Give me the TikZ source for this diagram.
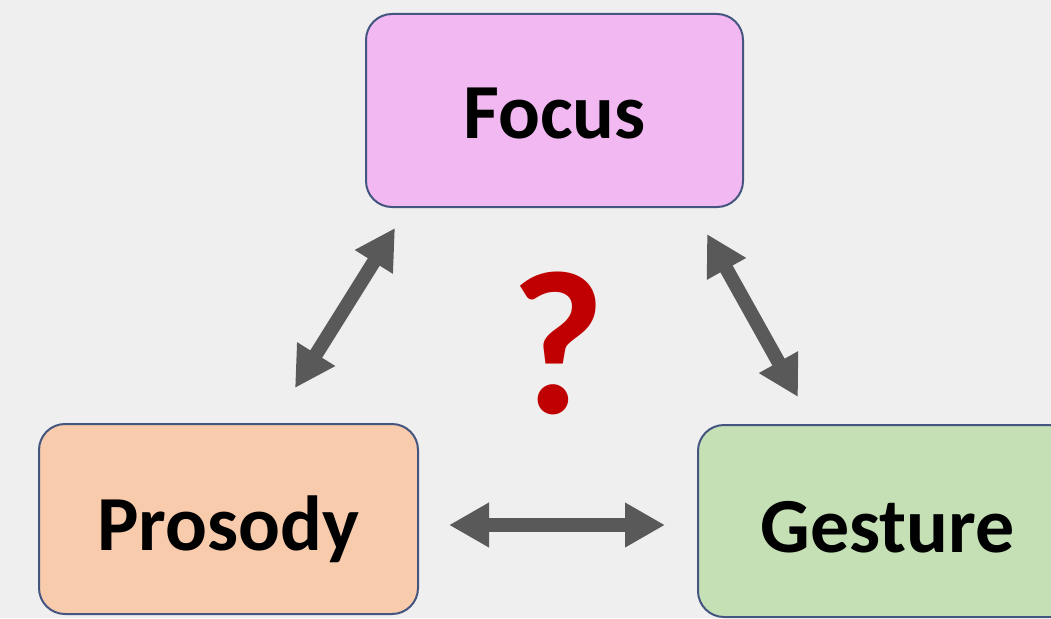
\documentclass[tikz,border=0pt]{standalone}
\usepackage{fontspec}
\setmainfont{Carlito}
\usetikzlibrary{arrows.meta}
\definecolor{bg}{HTML}{EFEFEF}
\definecolor{edge}{HTML}{44557F}
\definecolor{focusfill}{HTML}{F2B8F2}
\definecolor{prosfill}{HTML}{F8CBAD}
\definecolor{gestfill}{HTML}{C5E0B4}
\definecolor{arrowgray}{HTML}{595959}
\definecolor{qred}{HTML}{C00000}
\tikzset{
  box/.style={draw=edge, line width=2pt, rounded corners=26pt, inner sep=0pt, align=center, font=\bfseries\fontsize{78}{82}\selectfont, text depth=0pt},
  link/.style={draw=arrowgray, line width=14pt, {Triangle[length=40pt,width=42pt]}-{Triangle[length=40pt,width=42pt]}}
}
\begin{document}
\begin{tikzpicture}[x=1pt,y=-1pt]
\useasboundingbox (0,0) rectangle (1051,618);
\clip (0,0) rectangle (1051,618);
\fill[bg] (0,0) rectangle (1051,618);
\node[box, fill=focusfill, minimum width=377pt, minimum height=193pt, text height=55pt] (focus) at (554.5,110.5) {Focus};
\node[box, fill=prosfill, minimum width=379pt, minimum height=190pt, text height=62pt] (prosody) at (228.5,519) {Prosody};
\node[box, fill=gestfill, minimum width=379pt, minimum height=192pt, text height=62pt] (gesture) at (887.5,521) {Gesture};
\node[text=qred, font=\bfseries\fontsize{205}{210}\selectfont, inner sep=0pt] (q) at (558,343) {?};
\coordinate (l1) at (395,228);
\coordinate (l2) at (295,388);
\coordinate (r1) at (707,234);
\coordinate (r2) at (798,397);
\coordinate (h1) at (449,525);
\coordinate (h2) at (665,525);
\draw[link] (l1) -- (l2);
\draw[link] (r1) -- (r2);
\draw[link] (h1) -- (h2);
\end{tikzpicture}
\end{document}
